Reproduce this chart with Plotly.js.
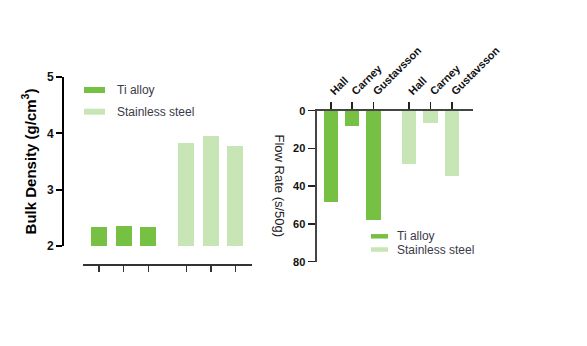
<!DOCTYPE html>
<html>
<head>
<meta charset="utf-8">
<script src="https://cdn.plot.ly/plotly-3.0.1.min.js"></script>
<style>html,body{margin:0;padding:0;background:#fff}#chart{width:587px;height:346px}</style>
</head>
<body>
<div id="chart"></div>
<script>
// ---- data ----
var seriesNames = ['Ti alloy', 'Stainless steel'];
var methods = ['Hall', 'Carney', 'Gustavsson'];
var densityTi = [2.34, 2.35, 2.34];
var densitySS = [3.83, 3.95, 3.78];
var flowTi = [48.2, 7.9, 57.9];
var flowSS = [28.2, 6.3, 34.6];
var densityTicks = [2, 3, 4, 5];
var flowTicks = [0, 20, 40, 60, 80];

// ---- styling ----
var cTi = '#76c044';
var cSS = '#c8e6b5';
var W = 587, H = 346;
function px(x){ return x / W; }
function py(y){ return 1 - y / H; }

// positions of groups along x (second group shifted by a gap)
function positions(n, gap){
  var a = [], b = [];
  for (var i = 0; i < n; i++){ a.push(i); b.push(i + gap); }
  return [a, b];
}
var pL = positions(methods.length, 3.55);
var pR = positions(methods.length, 3.67);

var traces = [
  {type:'bar', x:pL[0], y:densityTi, marker:{color:cTi}, width:0.65, xaxis:'x', yaxis:'y', name:seriesNames[0], hoverinfo:'y'},
  {type:'bar', x:pL[1], y:densitySS, marker:{color:cSS}, width:0.65, xaxis:'x', yaxis:'y', name:seriesNames[1], hoverinfo:'y'},
  {type:'bar', x:pR[0], y:flowTi, marker:{color:cTi}, width:0.68, xaxis:'x2', yaxis:'y2', name:seriesNames[0], hoverinfo:'y'},
  {type:'bar', x:pR[1], y:flowSS, marker:{color:cSS}, width:0.68, xaxis:'x2', yaxis:'y2', name:seriesNames[1], hoverinfo:'y'}
];

var axFont = 'Arial, "Liberation Sans", sans-serif';
var layout = {
  width: W, height: H,
  margin: {l:0, r:0, t:0, b:0},
  paper_bgcolor: '#ffffff', plot_bgcolor: 'rgba(0,0,0,0)',
  showlegend: false,
  bargap: 0,
  xaxis: {
    domain: [px(83), px(252)], range: [-0.66, 6.23],
    anchor: 'free', position: py(264),
    showline: true, linecolor: '#333', linewidth: 1.5,
    ticks: 'outside', ticklen: 6, tickwidth: 1.5, tickcolor: '#333',
    tickvals: pL[0].concat(pL[1]), showticklabels: false,
    showgrid: false, zeroline: false, fixedrange: true
  },
  yaxis: {
    domain: [py(246), py(77)], range: [2, 5],
    anchor: 'free', position: px(63),
    showline: true, linecolor: '#000', linewidth: 2,
    ticks: 'outside', ticklen: 6, tickwidth: 2, tickcolor: '#000',
    tickvals: densityTicks,
    tickfont: {family: axFont, size: 12, color: '#111', weight: 'bold'},
    title: {text: 'Bulk Density (g/cm<sup>3</sup>)', font: {family: axFont, size: 15, color: '#000', weight: 'bold'}, standoff: 6},
    showgrid: false, zeroline: false, fixedrange: true
  },
  xaxis2: {
    domain: [px(316.5), px(473)], range: [-0.67, 6.66],
    anchor: 'y2', side: 'top',
    showline: true, linecolor: '#444', linewidth: 2,
    ticks: 'outside', ticklen: 7, tickwidth: 1.5, tickcolor: '#222',
    tickvals: pR[0].concat(pR[1]), ticktext: methods.concat(methods), tickangle: -45,
    tickfont: {family: axFont, size: 11, color: '#111', weight: 'bold'},
    showgrid: false, zeroline: false, fixedrange: true
  },
  yaxis2: {
    domain: [py(261.7), py(110.7)], range: [80, 0],
    anchor: 'x2',
    showline: true, linecolor: '#444', linewidth: 2,
    ticks: 'outside', ticklen: 7, tickwidth: 1.5, tickcolor: '#222',
    tickvals: flowTicks,
    tickfont: {family: axFont, size: 11, color: '#111', weight: 'bold'},
    showgrid: false, zeroline: false, fixedrange: true
  },
  annotations: [],
  shapes: []
};

// right y-axis title (reads top to bottom)
layout.annotations.push({
  xref:'paper', yref:'paper', x: px(279), y: py(185.5), showarrow:false,
  text:'Flow Rate (s/50g)', textangle: 90, xanchor:'center', yanchor:'middle',
  font:{family: axFont, size: 13, color:'#222'}
});

// legends
var legFont = {family: axFont, size: 12, color:'#3a3a48'};
var colors = [cTi, cSS];
var legL = {x0:84, x1:105, tx:115, ys:[90, 111.7], h:6};
var legR = {x0:371, x1:388, tx:395, ys:[236.3, 249.5], h:4.5};
[legL, legR].forEach(function(L){
  seriesNames.forEach(function(name, i){
    layout.shapes.push({type:'rect', xref:'paper', yref:'paper',
      x0: px(L.x0), x1: px(L.x1), y0: py(L.ys[i] + L.h/2), y1: py(L.ys[i] - L.h/2),
      fillcolor: colors[i], line:{width:0}});
    layout.annotations.push({xref:'paper', yref:'paper', x: px(L.tx), y: py(L.ys[i]),
      xanchor:'left', yanchor:'middle', showarrow:false, text:name, font:legFont});
  });
});

Plotly.newPlot('chart', traces, layout, {displayModeBar:false, staticPlot:true});
</script>
</body>
</html>
